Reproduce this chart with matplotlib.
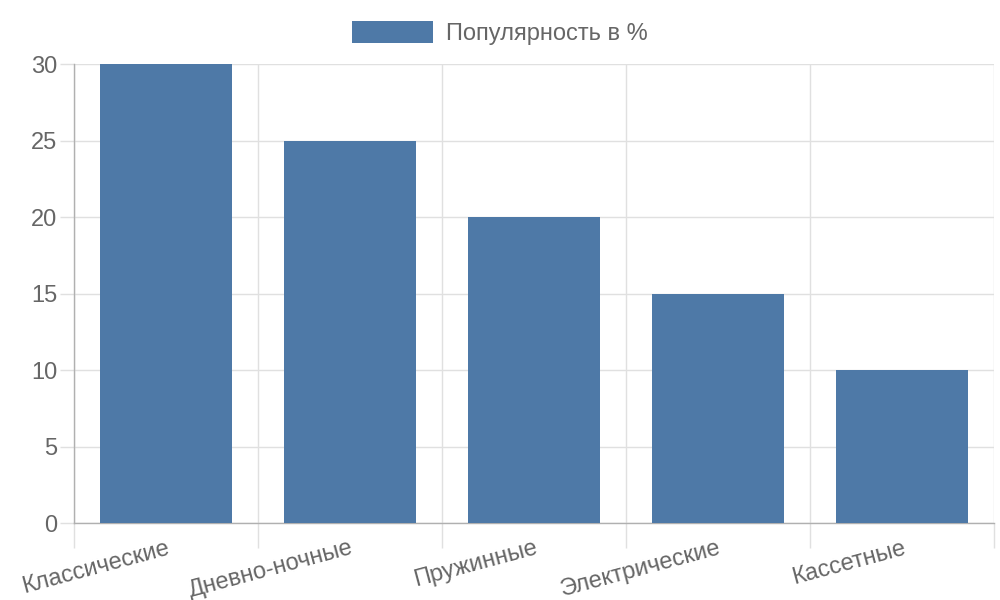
import matplotlib
matplotlib.use("Agg")
import matplotlib.pyplot as plt
from matplotlib.ticker import MultipleLocator, FixedLocator

plt.rcParams['font.family'] = ['Liberation Sans', 'DejaVu Sans']

categories = ["Классические", "Дневно-ночные", "Пружинные", "Электрические", "Кассетные"]
values = [30, 25, 20, 15, 10]
series_name = "Популярность в %"

bar_color = "#4e79a7"
text_color = "#666666"
grid_color = "#e0e0e0"
axis_color = "#b0b0b0"

fig = plt.figure(figsize=(10, 6), dpi=100)
ax = fig.add_axes([0.074, 0.1283, 0.92, 0.765])

x = list(range(len(categories)))
ax.bar(x, values, width=0.72, color=bar_color, label=series_name, zorder=3)

ax.set_xlim(-0.5, len(categories) - 0.5)
ax.set_ylim(0, 30)
ax.yaxis.set_major_locator(MultipleLocator(5))

# vertical grid at category boundaries, labels at centers
ax.xaxis.set_major_locator(FixedLocator([i - 0.5 for i in range(len(categories) + 1)]))
ax.xaxis.set_minor_locator(FixedLocator(x))
ax.set_xticklabels([])
ax.set_xticklabels(categories, minor=True, rotation=15, ha='right',
                   rotation_mode='anchor', fontsize=17, color=text_color)
ax.tick_params(axis='x', which='minor', length=0, pad=10)
ax.tick_params(axis='x', which='major', length=18, color=grid_color, width=1)
ax.tick_params(axis='y', length=10, color=grid_color, width=1,
               labelsize=17, labelcolor=text_color, pad=2)

ax.grid(True, which='major', color=grid_color, linewidth=1, zorder=0)
for side in ['top', 'right']:
    ax.spines[side].set_visible(False)
for side in ['left', 'bottom']:
    ax.spines[side].set_color(axis_color)
    ax.spines[side].set_linewidth(1)

leg = ax.legend(loc='lower center', bbox_to_anchor=(0.463, 1.0), frameon=False,
                fontsize=17, handlelength=3.4, handleheight=1.05, handletextpad=0.55,
                labelcolor=text_color, borderaxespad=0.4)

fig.savefig("out.png", dpi=100)
